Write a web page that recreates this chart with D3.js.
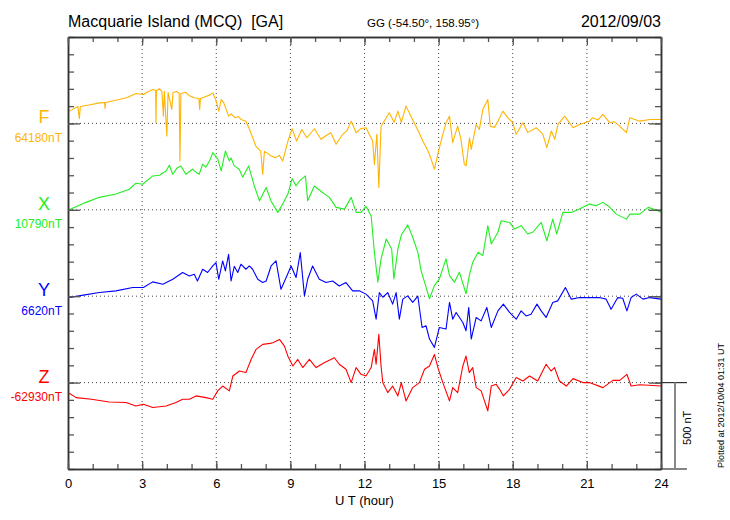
<!DOCTYPE html>
<html>
<head>
<meta charset="utf-8">
<script src="https://cdn.jsdelivr.net/npm/d3@7"></script>
<style>
  body { margin: 0; background: #fff; }
  svg text { font-family: "Liberation Sans", Arial, Helvetica, sans-serif; }
</style>
</head>
<body>
<svg id="chart" width="730" height="520"></svg>
<script>
// Components, their baseline values (nT) and colours
const components = ["F", "X", "Y", "Z"];
const baseValues = [64180, 10790, 6620, -62930];
const colors = ["#ffb400", "#22ee22", "#0000ff", "#ff0000"];
const hourTicks = [0, 3, 6, 9, 12, 15, 18, 21, 24];

// Deviations from the baseline value, [UT hour, nT]
const fData = [
  [0.05, 71], [0.4, 98], [0.46, 27], [0.5, 98], [0.9, 108], [1.27, 119], [1.48, 121], [1.5, 87], [1.52, 121],
  [2.07, 138], [2.4, 150], [2.75, 173], [3.05, 167], [3.25, 185], [3.43, 196], [3.55, 190], [3.56, 4], [3.58, 190],
  [3.7, 200], [3.8, 185], [3.86, 42], [3.9, 185], [4.0, -73], [4.05, 179], [4.2, 81], [4.25, 179], [4.4, 185],
  [4.5, 173], [4.53, -218], [4.57, 173], [4.75, 180], [4.9, 162], [5.1, 148], [5.3, 144], [5.33, 81], [5.36, 144],
  [5.6, 157], [5.75, 165], [5.86, 177], [6.0, 129], [6.1, 71], [6.2, 138], [6.3, 120], [6.4, 81], [6.5, 42],
  [6.6, 55], [6.75, 33], [6.9, 40], [7.0, 23], [7.2, 13], [7.35, -35], [7.6, -131], [7.8, -160], [7.88, -294],
  [7.95, -162], [8.1, -175], [8.22, -189], [8.4, -198], [8.55, -185], [8.69, -218], [8.9, -102], [9.07, -31],
  [9.25, -102], [9.46, -35], [9.67, -83], [9.97, -31], [10.24, -92], [10.45, -70], [10.64, -54], [10.85, -121],
  [11.12, -63], [11.3, -40], [11.46, 13], [11.66, -54], [11.85, -30], [12.06, -25], [12.33, -102], [12.4, -237],
  [12.5, -63], [12.58, -371], [12.67, -16], [12.88, 33], [13.0, 62], [13.2, 6], [13.35, 71], [13.49, 6],
  [13.68, 100], [13.88, 42], [14.08, -16], [14.2, -50], [14.36, -102], [14.5, -140], [14.63, -179], [14.83, -265],
  [15.03, -140], [15.3, 4], [15.44, 42], [15.57, -111], [15.77, -16], [15.9, -90], [16.04, -237], [16.11, -246],
  [16.25, -83], [16.32, -150], [16.52, -6], [16.65, -35], [16.79, 81], [16.99, 138], [17.09, -16], [17.26, -23],
  [17.4, 12], [17.6, 71], [17.8, 33], [18.0, 4], [18.14, -63], [18.41, 4], [18.61, -52], [18.95, -25],
  [19.22, -63], [19.38, -140], [19.56, -44], [19.7, -92], [19.83, -6], [20.1, 42], [20.44, -25], [20.7, -6],
  [21.1, 13], [21.24, 33], [21.45, 20], [21.65, 52], [21.92, 4], [22.1, 10], [22.33, -16], [22.6, -54],
  [22.74, 33], [23.14, 13], [23.55, 23], [24, 23]
];
const xData = [
  [0.05, 0], [0.73, 43], [1.27, 72], [1.94, 91], [2.48, 119], [2.75, 154], [3.02, 148], [3.43, 196], [3.7, 200],
  [3.97, 225], [4.1, 258], [4.24, 206], [4.4, 240], [4.57, 254], [4.77, 206], [5.04, 235], [5.2, 215], [5.31, 206],
  [5.45, 264], [5.58, 246], [5.75, 290], [5.86, 331], [6.06, 293], [6.2, 225], [6.37, 340], [6.53, 283],
  [6.6, 300], [6.73, 254], [6.93, 235], [7.07, 189], [7.31, 254], [7.54, 138], [7.75, 52], [8.02, 129],
  [8.22, 50], [8.49, -15], [8.69, 33], [8.9, 91], [9.07, 181], [9.23, 138], [9.37, 167], [9.61, 196], [9.7, 52],
  [9.97, 138], [10.3, 100], [10.58, 72], [10.85, 14], [11.19, 4], [11.46, 72], [11.66, -15], [11.86, -15],
  [12.06, 20], [12.27, -36], [12.4, -246], [12.54, -419], [12.67, -284], [12.88, -169], [13.1, -227],
  [13.19, -400], [13.35, -227], [13.49, -146], [13.75, -87], [13.95, -159], [14.16, -246], [14.29, -352],
  [14.43, -419], [14.63, -515], [14.83, -439], [15.03, -400], [15.3, -284], [15.44, -381], [15.64, -419],
  [15.84, -361], [16.11, -486], [16.24, -381], [16.38, -304], [16.6, -246], [16.79, -265], [16.99, -92],
  [17.13, -198], [17.4, -130], [17.53, -63], [17.87, -73], [18.07, -111], [18.34, -92], [18.61, -140],
  [18.81, -130], [19.15, -73], [19.38, -179], [19.62, -54], [19.78, -140], [20.03, -15], [20.37, -15],
  [20.7, 4], [21.1, 33], [21.37, 23], [21.65, 43], [21.92, 16], [22.19, -25], [22.6, -54], [22.74, -25],
  [23.14, -25], [23.48, 14], [24, -12]
];
const yData = [
  [0.05, -8], [0.62, 6], [1.27, 21], [1.94, 31], [2.62, 50], [3.05, 50], [3.43, 83], [3.84, 69], [4.24, 98],
  [4.64, 137], [4.91, 117], [5.11, 127], [5.24, 88], [5.45, 156], [5.65, 137], [5.86, 175], [5.99, 194],
  [6.1, 98], [6.26, 204], [6.37, 146], [6.5, 242], [6.6, 88], [6.73, 173], [6.87, 137], [7.0, 185], [7.2, 156],
  [7.34, 175], [7.47, 156], [7.68, 98], [7.88, 79], [8.02, 88], [8.22, 175], [8.42, 204], [8.62, 40],
  [8.83, 108], [9.03, 175], [9.23, 108], [9.4, 252], [9.57, 2], [9.7, 98], [9.9, 175], [10.17, 98], [10.44, 79],
  [10.71, 88], [10.98, 59], [11.25, 79], [11.52, 31], [11.79, 31], [12.06, 12], [12.33, -27], [12.47, -133],
  [12.6, 21], [12.74, -6], [12.94, 21], [13.14, -46], [13.28, 21], [13.41, -133], [13.55, -17], [13.75, 2],
  [13.95, -36], [14.16, 0], [14.33, -181], [14.49, -171], [14.63, -248], [14.83, -296], [15.03, -181],
  [15.3, -190], [15.44, -36], [15.57, -133], [15.71, -94], [15.98, -152], [16.11, -200], [16.22, -65],
  [16.32, -248], [16.52, -123], [16.72, -143], [16.95, -65], [17.13, -181], [17.4, -85], [17.62, -46],
  [17.87, -94], [18.14, -133], [18.34, -85], [18.54, -114], [18.74, -104], [18.98, -46], [19.15, -85],
  [19.35, -123], [19.62, -36], [19.82, -27], [20.13, 50], [20.37, -17], [20.71, -8], [21.1, -8], [21.51, -8],
  [21.78, -17], [21.98, -75], [22.25, -8], [22.45, -12], [22.62, -85], [22.79, -8], [23.0, 12], [23.27, -17],
  [23.55, -8], [24, -17]
];
const zData = [
  [0.05, -62], [0.33, -87], [0.95, -96], [1.67, -112], [2.35, -115], [2.75, -135], [3.05, -125], [3.43, -144],
  [3.97, -135], [4.37, -115], [4.64, -96], [4.91, -96], [5.18, -77], [5.58, -87], [5.86, -96], [6.06, -48],
  [6.26, -20], [6.53, -48], [6.67, 38], [6.94, 67], [7.2, 58], [7.41, 134], [7.61, 192], [7.88, 221],
  [8.18, 227], [8.29, 231], [8.56, 250], [8.76, 211], [8.9, 153], [9.1, 96], [9.3, 134], [9.5, 87], [9.77, 134],
  [10.04, 87], [10.37, 115], [10.78, 144], [10.98, 106], [11.25, 77], [11.46, 0], [11.66, 87], [11.86, 48],
  [12.06, 38], [12.27, 87], [12.4, 192], [12.47, 106], [12.58, 279], [12.67, 96], [12.74, 0], [12.94, -58],
  [13.14, -20], [13.35, -77], [13.49, 0], [13.68, -106], [13.95, -29], [14.22, 0], [14.43, 77], [14.63, 96],
  [14.83, 163], [14.97, 87], [15.17, 0], [15.44, -106], [15.57, -29], [15.77, -58], [15.98, 96], [16.11, 154],
  [16.24, 58], [16.38, 87], [16.52, -29], [16.72, -48], [16.99, -164], [17.13, -20], [17.33, -10], [17.47, -39],
  [17.62, -77], [17.87, -39], [18.14, 29], [18.41, 9], [18.68, 38], [19.01, 9], [19.35, 106], [19.55, 67],
  [19.69, 87], [19.89, 9], [20.17, -20], [20.44, 23], [20.84, 0], [21.1, 0], [21.65, -29], [22.05, 13],
  [22.33, 13], [22.62, 48], [22.79, -20], [23.14, -12], [23.68, -17], [24, -20]
];
const seriesData = [fData, xData, yData, zData];

const svg = d3.select("#chart");
const plotLeft = 68, plotRight = 661, plotTop = 37, plotBottom = 469;

const x = d3.scaleLinear().domain([0, 24]).range([plotLeft, plotRight]);
// vertical scale covers 2500 nT; each component sits on its own baseline
const y = d3.scaleLinear().domain([0, 2500]).range([plotBottom, plotTop]);
const panelBase = [2000, 1500, 1000, 500];

// dotted grid
svg.append("g")
  .selectAll("line")
  .data(hourTicks.slice(1, -1))
  .join("line")
  .attr("x1", d => x(d)).attr("x2", d => x(d))
  .attr("y1", plotTop).attr("y2", plotBottom)
  .attr("stroke", "#444").attr("stroke-width", 1).attr("stroke-dasharray", "1,3");

svg.append("g")
  .selectAll("line")
  .data(panelBase)
  .join("line")
  .attr("x1", plotLeft).attr("x2", plotRight)
  .attr("y1", d => y(d)).attr("y2", d => y(d))
  .attr("stroke", "#444").attr("stroke-width", 1).attr("stroke-dasharray", "1,3");

// traces
const line = d3.line();
seriesData.forEach((data, i) => {
  svg.append("path")
    .attr("d", line(data.map(d => [x(d[0]), y(panelBase[i] + d[1])])))
    .attr("fill", "none")
    .attr("stroke", colors[i])
    .attr("stroke-width", 1.1)
    .attr("stroke-linejoin", "round");
});

// axes: minor inward ticks
const hourly = d3.range(0, 25);
const hundreds = d3.range(0, 2501, 100);

svg.append("g").attr("transform", `translate(0,${plotBottom})`)
  .call(d3.axisBottom(x).tickValues(hourly).tickSizeInner(-5).tickSizeOuter(0).tickFormat(""));
svg.append("g").attr("transform", `translate(0,${plotTop})`)
  .call(d3.axisTop(x).tickValues(hourly).tickSizeInner(-5).tickSizeOuter(0).tickFormat(""));
svg.append("g").attr("transform", `translate(${plotLeft},0)`)
  .call(d3.axisLeft(y).tickValues(hundreds).tickSizeInner(-6).tickSizeOuter(0).tickFormat(""));
svg.append("g").attr("transform", `translate(${plotRight},0)`)
  .call(d3.axisRight(y).tickValues(hundreds).tickSizeInner(-6).tickSizeOuter(0).tickFormat(""));

// longer ticks at baselines and 3-hour marks
svg.append("g").attr("transform", `translate(${plotLeft},0)`)
  .call(d3.axisLeft(y).tickValues(panelBase).tickSizeInner(-12).tickSizeOuter(0).tickFormat(""));
svg.append("g").attr("transform", `translate(${plotRight},0)`)
  .call(d3.axisRight(y).tickValues(panelBase).tickSizeInner(-12).tickSizeOuter(0).tickFormat(""));
svg.append("g").attr("transform", `translate(0,${plotBottom})`)
  .call(d3.axisBottom(x).tickValues(hourTicks).tickSizeInner(-8).tickSizeOuter(0).tickPadding(10)
    .tickFormat(d3.format("d")))
  .call(g => g.selectAll("text").attr("font-size", 13).attr("fill", "#000")
    .attr("font-family", "Liberation Sans, Arial, sans-serif"));
svg.append("g").attr("transform", `translate(0,${plotTop})`)
  .call(d3.axisTop(x).tickValues(hourTicks).tickSizeInner(-8).tickSizeOuter(0).tickFormat(""));

svg.selectAll(".domain").attr("stroke", "#333").attr("stroke-width", 1.5);
svg.selectAll(".tick line").attr("stroke", "#555").attr("stroke-width", 1.3);

// 500 nT scale bar
svg.append("line").attr("x1", plotRight).attr("x2", 687).attr("y1", y(500)).attr("y2", y(500))
  .attr("stroke", "#333").attr("stroke-width", 1.2);
svg.append("line").attr("x1", plotRight).attr("x2", 687).attr("y1", plotBottom).attr("y2", plotBottom)
  .attr("stroke", "#333").attr("stroke-width", 1.2);
svg.append("line").attr("x1", 675).attr("x2", 675).attr("y1", y(500)).attr("y2", y(0))
  .attr("stroke", "#888").attr("stroke-width", 2);
svg.append("text").attr("transform", `translate(691,${(y(500) + y(0)) / 2 + 2}) rotate(-90)`)
  .attr("text-anchor", "middle").attr("font-size", 11).text("500 nT");

// component labels
components.forEach((c, i) => {
  svg.append("text").attr("x", 44).attr("y", y(panelBase[i]))
    .attr("text-anchor", "middle").attr("font-size", 18).attr("fill", colors[i]).text(c);
  svg.append("text").attr("x", 62).attr("y", y(panelBase[i]) + 18.5)
    .attr("text-anchor", "end").attr("font-size", 12).attr("fill", colors[i])
    .text(baseValues[i] + "nT");
});

// titles
svg.append("text").attr("x", plotLeft).attr("y", 27).attr("font-size", 16)
  .attr("xml:space", "preserve").text("Macquarie Island (MCQ)  [GA]");
svg.append("text").attr("x", 367).attr("y", 27).attr("font-size", 11.5)
  .text("GG (-54.50°, 158.95°)");
svg.append("text").attr("x", plotRight).attr("y", 27).attr("text-anchor", "end").attr("font-size", 16)
  .text("2012/09/03");
svg.append("text").attr("x", (plotLeft + plotRight) / 2).attr("y", 505).attr("text-anchor", "middle")
  .attr("font-size", 13).text("U T (hour)");
svg.append("text").attr("transform", "translate(724,468) rotate(-90)")
  .attr("font-size", 9).text("Plotted at 2012/10/04 01:31 UT");
</script>
</body>
</html>
